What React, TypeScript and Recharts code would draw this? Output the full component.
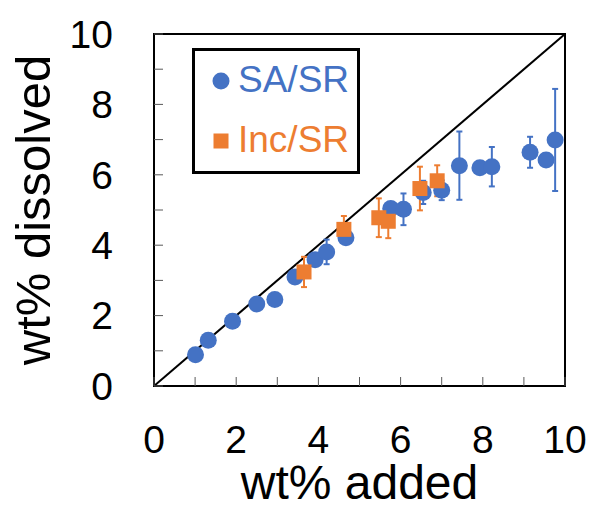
import React from 'react';
import {
	ScatterChart,
	Scatter,
	XAxis,
	YAxis,
	ErrorBar,
	ReferenceLine,
	ReferenceArea,
} from 'recharts';

// SA/SR series (blue circles)
const saAdded = [1.01, 1.32, 1.91, 2.5, 2.94, 3.43, 3.92, 4.2, 4.67, 5.76, 6.07, 6.55, 7.0, 7.43, 7.93, 8.22, 9.15, 9.54, 9.76];
const saDissolved = [0.89, 1.3, 1.84, 2.33, 2.46, 3.1, 3.59, 3.81, 4.21, 5.04, 5.02, 5.5, 5.56, 6.26, 6.2, 6.23, 6.64, 6.42, 6.99];
const saError = [0, 0, 0, 0, 0, 0, 0.1, 0.35, 0, 0.1, 0.45, 0.33, 0.28, 0.97, 0.15, 0.56, 0.44, 0, 1.45];

// Inc/SR series (orange squares)
const incAdded = [3.65, 4.62, 5.47, 5.7, 6.47, 6.89];
const incDissolved = [3.24, 4.45, 4.78, 4.68, 5.61, 5.83];
const incError = [0.43, 0.38, 0.55, 0.48, 0.62, 0.44];

const axisTicks = [0, 1, 2, 3, 4, 5, 6, 7, 8, 9, 10];
const labelledTicks = [0, 2, 4, 6, 8, 10];
const seriesNames = ['SA/SR', 'Inc/SR'];

const BLUE = '#4472C4';
const ORANGE = '#ED7D31';
const FONT = '"Liberation Sans", Arial, sans-serif';

const saData = saAdded.map((x, i) => ({ x, y: saDissolved[i], err: saError[i] }));
const incData = incAdded.map((x, i) => ({ x, y: incDissolved[i], err: incError[i] }));

const XTick = (props: any) => {
	const { x, y, payload } = props;
	const v = payload.value;
	return (
		<g>
			<line x1={x} x2={x} y1={y} y2={y - 9} stroke="#595959" strokeWidth={1} />
			{labelledTicks.includes(v) && (
				<text x={x} y={y + 53} dy="0.355em" textAnchor="middle" fontSize={39} fontFamily={FONT} fill="#000">
					{v}
				</text>
			)}
		</g>
	);
};

const YTick = (props: any) => {
	const { x, y, payload } = props;
	const v = payload.value;
	return (
		<g>
			<line x1={x} x2={x + 9} y1={y} y2={y} stroke="#595959" strokeWidth={1} />
			{labelledTicks.includes(v) && (
				<text x={x - 41} y={y} dy="0.355em" textAnchor="end" fontSize={39} fontFamily={FONT} fill="#000">
					{v}
				</text>
			)}
		</g>
	);
};

const Circle = (props: any) => <circle cx={props.cx} cy={props.cy} r={8.5} fill={BLUE} />;
const Square = (props: any) => <rect x={props.cx - 7.5} y={props.cy - 7.5} width={15} height={15} fill={ORANGE} />;

// legend box drawn over the plot (top-left, inside the frame)
const LegendBox = () => (
	<div
		style={{
			position: 'absolute',
			left: 192,
			top: 48,
			width: 168,
			height: 126,
			border: '3px solid #000',
			boxSizing: 'border-box',
			background: '#fff',
			fontFamily: FONT,
			fontSize: 37,
		}}
	>
		<svg width={30} height={30} style={{ position: 'absolute', left: 11, top: 15 }}>
			<circle cx={15} cy={15} r={8.5} fill={BLUE} />
		</svg>
		<div style={{ position: 'absolute', left: 43, top: 7, color: BLUE, lineHeight: '44px' }}>{seriesNames[0]}</div>
		<svg width={30} height={30} style={{ position: 'absolute', left: 11, top: 75 }}>
			<rect x={7.5} y={7.5} width={15} height={15} fill={ORANGE} />
		</svg>
		<div style={{ position: 'absolute', left: 43, top: 67, color: ORANGE, lineHeight: '44px' }}>{seriesNames[1]}</div>
	</div>
);

export default function App() {
	return (
		<div style={{ position: 'absolute', left: 0, top: 0, width: 594, height: 509, background: '#fff' }}>
			<ScatterChart width={594} height={509} margin={{ top: 34, right: 29, left: 0, bottom: 0 }}>
				<XAxis
					type="number"
					dataKey="x"
					domain={[0, 10]}
					ticks={axisTicks}
					interval={0}
					height={123}
					tickSize={0}
					tickMargin={0}
					tickLine={false}
					axisLine={false}
					tick={<XTick />}
					label={{ value: 'wt% added', position: 'insideBottom', offset: 10, fontSize: 48, fontFamily: FONT, fill: '#000' }}
				/>
				<YAxis
					type="number"
					dataKey="y"
					domain={[0, 10]}
					ticks={axisTicks}
					interval={0}
					width={154}
					tickSize={0}
					tickMargin={0}
					tickLine={false}
					axisLine={false}
					tick={<YTick />}
					label={{
						value: 'wt% dissolved',
						angle: -90,
						position: 'insideLeft',
						offset: 33,
						fontSize: 49,
						fontFamily: FONT,
						fill: '#000',
						style: { textAnchor: 'middle' },
					}}
				/>
				<ReferenceArea x1={0} x2={10} y1={0} y2={10} fill="none" stroke="#000" strokeWidth={2} ifOverflow="visible" />
				<ReferenceLine segment={[{ x: 0, y: 0 }, { x: 10, y: 10 }]} stroke="#000" strokeWidth={2} />
				<Scatter name={seriesNames[0]} data={saData} shape={<Circle />} isAnimationActive={false}>
					<ErrorBar dataKey="err" direction="y" width={3} stroke={BLUE} strokeWidth={2} />
				</Scatter>
				<Scatter name={seriesNames[1]} data={incData} shape={<Square />} isAnimationActive={false}>
					<ErrorBar dataKey="err" direction="y" width={3} stroke={ORANGE} strokeWidth={2} />
				</Scatter>
			</ScatterChart>
			<LegendBox />
		</div>
	);
}
